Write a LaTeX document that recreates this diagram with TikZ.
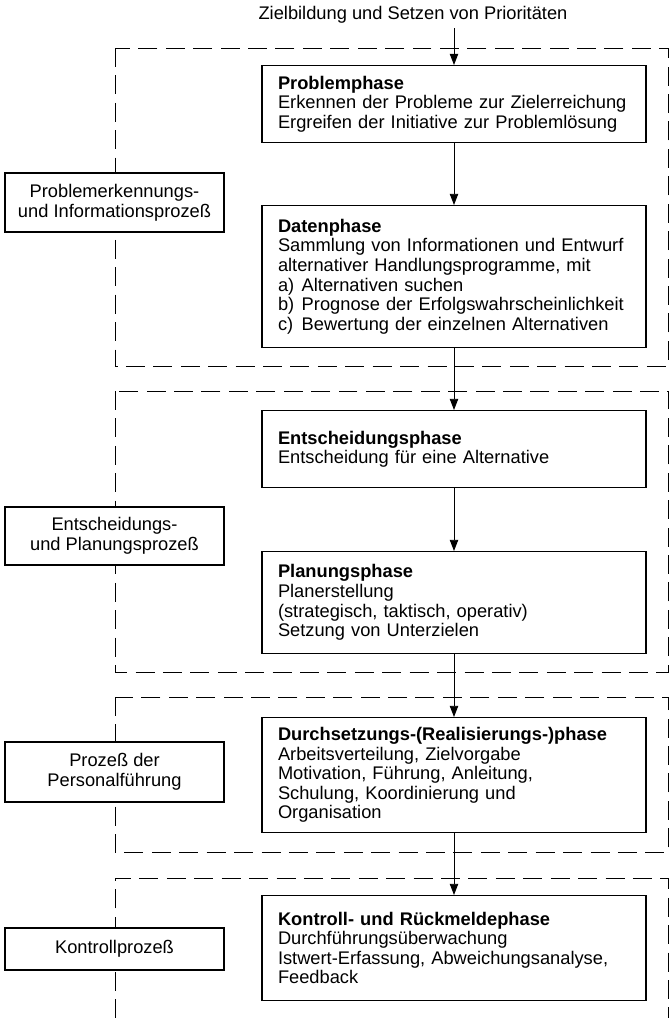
\documentclass[tikz,border=0pt]{standalone}
\usepackage{fontspec}
\setmainfont{Liberation Sans}
\usetikzlibrary{arrows.meta}

\tikzset{
  phase/.style={draw, line width=0.8pt, anchor=north, text width=8.8cm, inner xsep=0.4cm, align=left, font=\fontsize{13}{13.9}\selectfont},
  proc/.style={draw, fill=white, line width=0.8pt, minimum width=5.475cm, align=center, font=\fontsize{13}{13.9}\selectfont},
  group/.style={dash pattern=on 13.5pt off 6pt, line width=0.6pt},
  flow/.style={-{Triangle[length=8pt,width=6pt]}, line width=0.7pt}
}
\newcommand{\itm}[1]{\makebox[1.3em][l]{#1}}

\begin{document}
\begin{tikzpicture}
\useasboundingbox (0,0) rectangle (16.8,-25.45);

\draw[group] (2.875,-1.2) rectangle (16.7,-9.15);
\draw[group] (2.875,-9.775) rectangle (16.7,-16.8);
\draw[group] (2.875,-17.425) rectangle (16.7,-21.3);
\draw[group] (2.875,-25.45) -- (2.875,-21.95) -- (16.7,-21.95) -- (16.7,-25.45);

\node[font=\fontsize{13}{13.9}\selectfont] (title) at (10.325,-0.375) {Zielbildung und Setzen von Prioritäten};

\node[phase, minimum height=1.925cm] (prob) at (11.35,-1.625) {\textbf{Problemphase}\\Erkennen der Probleme zur Zielerreichung\\Ergreifen der Initiative zur Problemlösung};
\node[phase, minimum height=3.55cm] (daten) at (11.35,-5.125) {\textbf{Datenphase}\\Sammlung von Informationen und Entwurf\\alternativer Handlungsprogramme, mit\\\itm{a)}Alternativen suchen\\\itm{b)}Prognose der Erfolgswahrscheinlichkeit\\\itm{c)}Bewertung der einzelnen Alternativen};
\node[phase, minimum height=1.925cm] (ents) at (11.35,-10.25) {\textbf{Entscheidungsphase}\\Entscheidung für eine Alternative};
\node[phase, minimum height=2.55cm] (plan) at (11.35,-13.775) {\textbf{Planungsphase}\\Planerstellung\\(strategisch, taktisch, operativ)\\Setzung von Unterzielen};
\node[phase, minimum height=2.875cm] (durch) at (11.35,-17.925) {\textbf{Durchsetzungs-(Realisierungs-)phase}\\Arbeitsverteilung, Zielvorgabe\\Motivation, Führung, Anleitung,\\Schulung, Koordinierung und\\Organisation};
\node[phase, minimum height=2.625cm] (kontr) at (11.35,-22.375) {\textbf{Kontroll- und Rückmeldephase}\\Durchführungsüberwachung\\Istwert-Erfassung, Abweichungsanalyse,\\Feedback};

\node[proc, minimum height=1.475cm] (info) at (2.8625,-5.0625) {Problemerkennungs-\\und Informationsprozeß};
\node[proc, minimum height=1.45cm] (entsproz) at (2.8625,-13.4) {Entscheidungs-\\und Planungsprozeß};
\node[proc, minimum height=1.5cm] (fuehr) at (2.8625,-19.3) {Prozeß der\\Personalführung};
\node[proc, minimum height=1.05cm] (kontrproz) at (2.8625,-23.725) {Kontrollprozeß};

\draw[flow] (title.south -| prob.north) -- (prob.north);
\draw[flow] (prob) -- (daten);
\draw[flow] (daten) -- (ents);
\draw[flow] (ents) -- (plan);
\draw[flow] (plan) -- (durch);
\draw[flow] (durch) -- (kontr);

\end{tikzpicture}
\end{document}
